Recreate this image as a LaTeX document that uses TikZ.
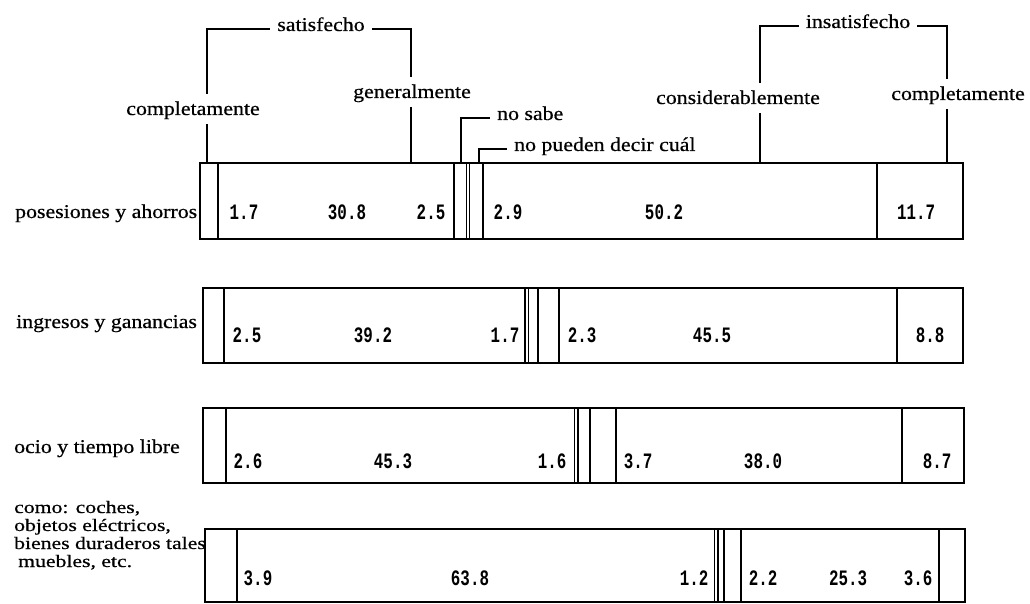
\documentclass[tikz,border=0pt]{standalone}
\usepackage{fontspec}
\setmainfont{Liberation Serif}[FakeStretch=1.12, FakeBold=0.6]
\newfontfamily\widefont{Liberation Serif}[FakeStretch=1.24, FakeBold=0.6]
\newfontfamily\numfont{Liberation Mono}[FakeStretch=0.72]
\begin{document}
\begin{tikzpicture}[x=1pt,y=-1pt,
  lbl/.style={font=\fontsize{19.5}{18}\selectfont, inner sep=0pt},
  lvl/.style={lbl, anchor=base, text height=17pt, text depth=5pt, inner ysep=4pt},
  tag/.style={lbl, anchor=base west},
  tagsmall/.style={font=\widefont\fontsize{17.5}{17}\selectfont, inner sep=0pt, anchor=base west},
  grp/.style={lbl, anchor=base, inner xsep=7pt},
  side/.style={lbl, anchor=base west, inner xsep=7pt},
  num/.style={font=\numfont\bfseries\fontsize{22}{22}\selectfont, anchor=base, inner sep=0pt},
  bar/.style={line width=2.3pt},
  sep/.style={line width=1.6pt},
  thinsep/.style={line width=1.1pt},
  lead/.style={line width=2pt}]
\useasboundingbox (0,0) rectangle (1030,604);

% ---- row 1: posesiones y ahorros
\draw[bar] (200,163) rectangle (963,239);
\foreach \x in {218,454,483,877} \draw[sep] (\x,163) -- (\x,239);
\foreach \x in {466.5,469.5} \draw[thinsep] (\x,163) -- (\x,239);
\node[tag] (t1) at (15,218) {posesiones y ahorros};
\node[num] (a1) at (244,219) {1.7};
\node[num] (a2) at (347,219) {30.8};
\node[num] (a3) at (431,219) {2.5};
\node[num] (a4) at (508,219) {2.9};
\node[num] (a5) at (664,219) {50.2};
\node[num] (a6) at (916,219) {11.7};

% ---- row 2: ingresos y ganancias
\draw[bar] (203,288) rectangle (963,363);
\foreach \x in {224,538,559,897} \draw[sep] (\x,288) -- (\x,363);
\foreach \x in {525,528.5} \draw[thinsep] (\x,288) -- (\x,363);
\node[tag] (t2) at (16,328) {ingresos y ganancias};
\node[num] (b1) at (247,342) {2.5};
\node[num] (b2) at (373,342) {39.2};
\node[num] (b3) at (505,342) {1.7};
\node[num] (b4) at (582,342) {2.3};
\node[num] (b5) at (712,342) {45.5};
\node[num] (b6) at (930,342) {8.8};

% ---- row 3: ocio y tiempo libre
\draw[bar] (203,408) rectangle (964,483);
\foreach \x in {226,590,616,902} \draw[sep] (\x,408) -- (\x,483);
\foreach \x in {574.5,578} \draw[thinsep] (\x,408) -- (\x,483);
\node[tag] (t3) at (14,453) {ocio y tiempo libre};
\node[num] (c1) at (248,468) {2.6};
\node[num] (c2) at (393,468) {45.3};
\node[num] (c3) at (552,468) {1.6};
\node[num] (c4) at (638,468) {3.7};
\node[num] (c5) at (763,468) {38.0};
\node[num] (c6) at (937,468) {8.7};

% ---- row 4: bienes duraderos
\draw[bar] (205,529) rectangle (965,602);
\foreach \x in {237,724,741,939} \draw[sep] (\x,529) -- (\x,602);
\foreach \x in {714.5,718} \draw[thinsep] (\x,529) -- (\x,602);
\node[tagsmall] (t4a) at (14,513) {como: coches,};
\node[tagsmall] (t4b) at (14,531) {objetos eléctricos,};
\node[tagsmall] (t4c) at (14,549) {bienes duraderos tales};
\node[tagsmall] (t4d) at (18,567) {muebles, etc.};
\node[num] (d1) at (258,585) {3.9};
\node[num] (d2) at (470,585) {63.8};
\node[num] (d3) at (694,585) {1.2};
\node[num] (d4) at (763,585) {2.2};
\node[num] (d5) at (848,585) {25.3};
\node[num] (d6) at (918,585) {3.6};

% ---- category labels above the first bar
\node[lvl] (cs)  at (193,115) {completamente};
\node[lvl] (gen) at (412,98)  {generalmente};
\node[lvl] (con) at (738,104) {considerablemente};
\node[lvl] (ci)  at (958,100) {completamente};
\node[grp] (sat) at (321,31)  {satisfecho};
\node[grp] (ins) at (858,28)  {insatisfecho};
\node[side] (ns) at (490,120) {no sabe};
\node[side] (np) at (507,151) {no pueden decir cuál};

% anchor points on the top edge of the first bar
\coordinate (p1) at (207,163);
\coordinate (p2) at (411,163);
\coordinate (p3) at (461,163);
\coordinate (p4) at (479,163);
\coordinate (p5) at (760,163);
\coordinate (p6) at (947,163);

% satisfied bracket
\draw[lead] (p1) -- (p1 |- cs.south);
\draw[lead] (p1 |- cs.north) |- (sat.mid west);
\draw[lead] (sat.mid east) -| (p2 |- gen.north);
\draw[lead] (gen.south -| p2) -- (p2);

% undecided leaders
\draw[lead] (p3) |- (ns.mid west);
\draw[lead] (p4) |- (np.mid west);

% dissatisfied bracket
\draw[lead] (p5) -- (p5 |- con.south);
\draw[lead] (p5 |- con.north) |- (ins.mid west);
\draw[lead] (ins.mid east) -| (p6 |- ci.north);
\draw[lead] (ci.south -| p6) -- (p6);
\end{tikzpicture}
\end{document}
